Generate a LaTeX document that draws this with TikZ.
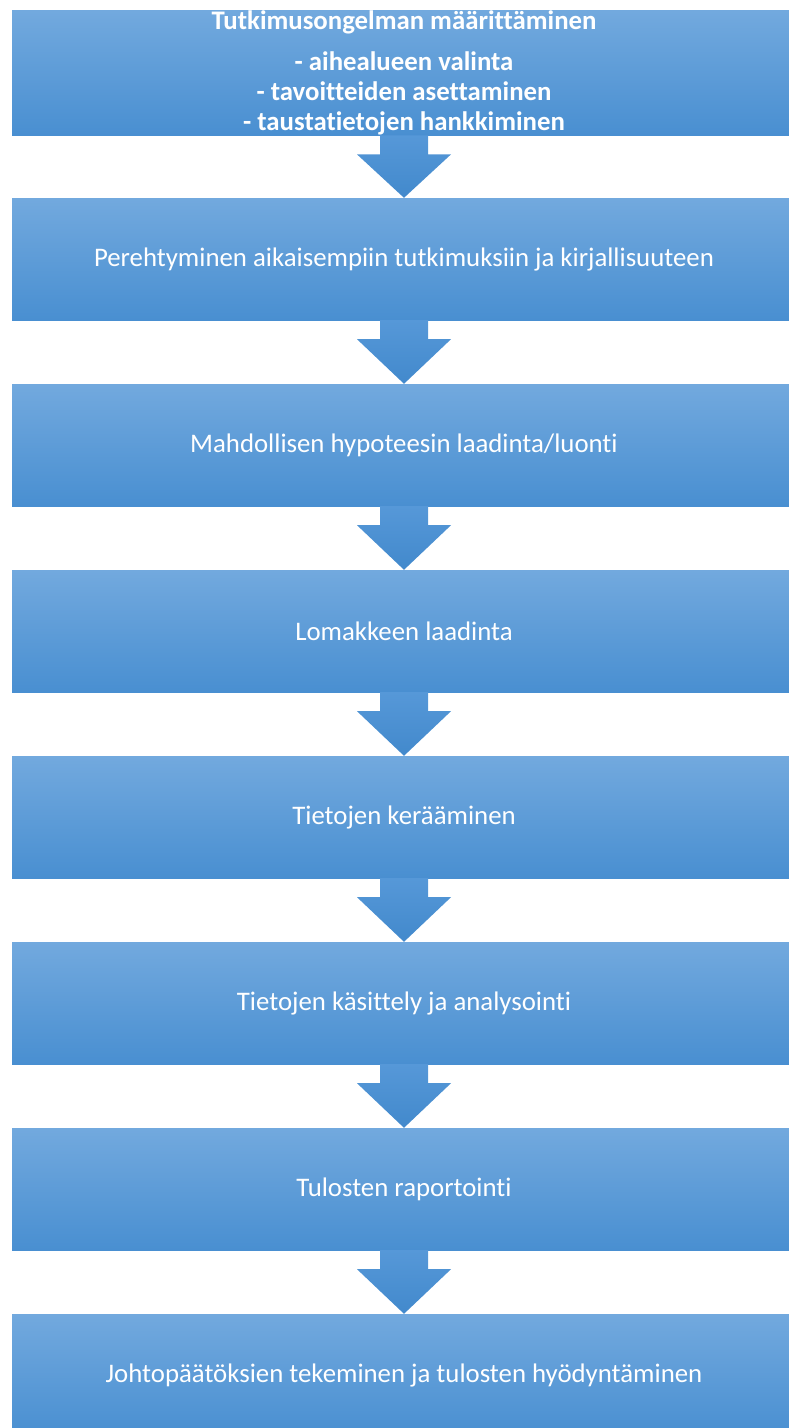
\documentclass[tikz,border=0pt]{standalone}
\usepackage{fontspec}
\setmainfont[Ligatures=NoCommon]{Carlito}
\usepackage{tikz}
\usetikzlibrary{calc}
\definecolor{boxtop}{RGB}{114,169,222}
\definecolor{boxmid}{RGB}{90,157,220}
\definecolor{boxbot}{RGB}{73,143,209}
\definecolor{arrowtop}{RGB}{86,152,216}
\definecolor{arrowbot}{RGB}{66,137,204}
\tikzstyle{block} = [rectangle, top color=boxtop, middle color=boxmid,
bottom color=boxbot, text=white, minimum width=784pt, minimum height=122pt,
inner sep=0pt, align=center, font=\fontsize{26.8}{30}\selectfont]
\tikzstyle{arrowshade} = [top color=arrowtop, bottom color=arrowbot]
\newcommand{\blockarrow}[2]{%
  \shade[arrowshade] ($(#1.south)+(-24,0)$) -- ($(#1.south)+(24,0)$)
    -- ($(#1.south)+(24,-19)$) -- ($(#1.south)+(47,-19)$) -- (#2.north)
    -- ($(#1.south)+(-47,-19)$) -- ($(#1.south)+(-24,-19)$) -- cycle;}

\begin{document}
\begin{tikzpicture}[x=1pt, y=1pt, node distance=186pt]
    \useasboundingbox (0,0) rectangle (789,-1428);
    % Place nodes
    \node [block, font=\fontsize{26.8}{30}\selectfont\bfseries] (problem) 
    at (404,-73) {Tutkimusongelman määrittäminen\\[11pt] - aihealueen valinta\\
    - tavoitteiden asettaminen\\ - taustatietojen hankkiminen};
    \node [block, below of=problem] (literature) {Perehtyminen aikaisempiin 
    tutkimuksiin ja kirjallisuuteen};
    \node [block, below of=literature] (hypothesis) {Mahdollisen hypoteesin 
    laadinta/luonti};
    \node [block, below of=hypothesis] (form) {Lomakkeen laadinta};
    \node [block, below of=form] (collect) {Tietojen kerääminen};
    \node [block, below of=collect] (analyse) {Tietojen käsittely ja 
    analysointi};
    \node [block, below of=analyse] (report) {Tulosten raportointi};
    \node [block, below of=report] (conclude) {Johtopäätöksien tekeminen ja 
    tulosten hyödyntäminen};

    % Draw arrows
    \blockarrow{problem}{literature}
    \blockarrow{literature}{hypothesis}
    \blockarrow{hypothesis}{form}
    \blockarrow{form}{collect}
    \blockarrow{collect}{analyse}
    \blockarrow{analyse}{report}
    \blockarrow{report}{conclude}
\end{tikzpicture}
\end{document}
